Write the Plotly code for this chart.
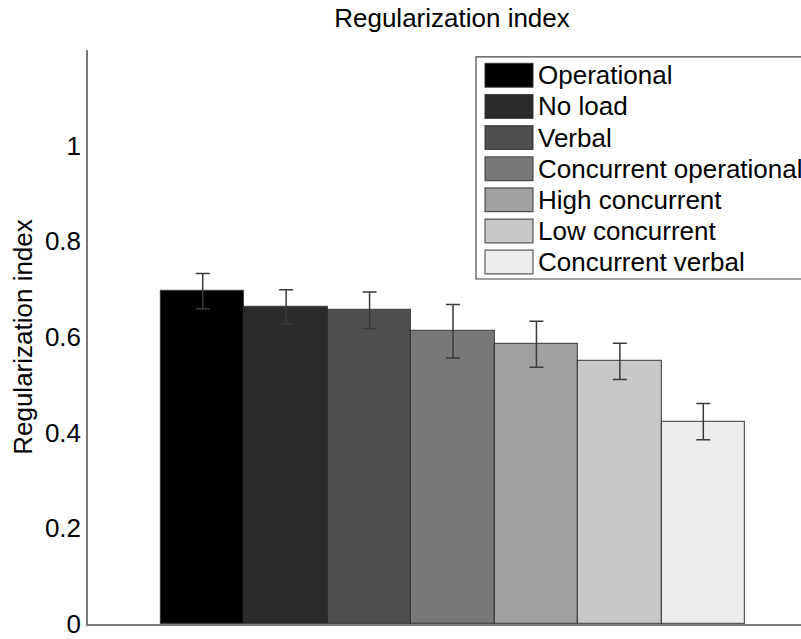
import plotly.graph_objects as go

# ---- data ----
conditions = ["Operational", "No load", "Verbal", "Concurrent operational",
              "High concurrent", "Low concurrent", "Concurrent verbal"]
values = [0.696, 0.663, 0.656, 0.612, 0.585, 0.549, 0.423]
errors = [0.037, 0.036, 0.038, 0.056, 0.048, 0.038, 0.038]
colors = ["#000000", "#2b2b2b", "#4f4f4f", "#787878", "#a0a0a0", "#c8c8c8", "#ececec"]
ytick_vals = [0, 0.2, 0.4, 0.6, 0.8, 1]
ytick_text = ["0", "0.2", "0.4", "0.6", "0.8", "1"]

W, H = 801, 639
ML, MR, MT, MB = 88, 0, 50, 10
FONT = "Liberation Sans, Arial, Helvetica, sans-serif"
FS = 26

fig = go.Figure()
fig.add_trace(go.Bar(
    x=conditions, y=values,
    marker=dict(color=colors, line=dict(color="rgba(40,40,40,0.75)", width=1.2)),
    error_y=dict(type="data", array=errors, visible=True,
                 color="#3a3a3a", thickness=1.5, width=7),
    width=1.0, showlegend=False,
))

# pixel helpers for layout (legend box placement)
pw = W - ML - MR
ph = H - MT - MB
def px_x(p):
    return (p - ML) / pw
def px_y(p):
    return (H - MB - p) / ph

shapes = []
annotations = []
# legend box (extends beyond the right edge, as in the reference)
shapes.append(dict(type="rect", xref="paper", yref="paper",
                   x0=px_x(476), x1=px_x(860), y0=px_y(281), y1=px_y(57),
                   line=dict(color="#444", width=1.2), fillcolor="white", layer="above"))
row0, step = 75.5, 31.4
for i, (name, c) in enumerate(zip(conditions, colors)):
    cy = row0 + i * step
    shapes.append(dict(type="rect", xref="paper", yref="paper",
                       x0=px_x(485), x1=px_x(533), y0=px_y(cy + 12), y1=px_y(cy - 12),
                       line=dict(color="rgba(40,40,40,0.75)", width=1.2),
                       fillcolor=c, layer="above"))
    annotations.append(dict(xref="paper", yref="paper", x=px_x(536), y=px_y(cy),
                            xanchor="left", yanchor="middle", text=name, showarrow=False,
                            font=dict(family=FONT, size=FS, color="black")))

fig.update_layout(
    width=W, height=H,
    margin=dict(l=ML, r=MR, t=MT, b=MB),
    paper_bgcolor="white", plot_bgcolor="white",
    bargap=0,
    font=dict(family=FONT, size=FS, color="black"),
    title=dict(text="Regularization index", x=452 / W,
               xref="container", xanchor="center", y=1 - 18 / H, yanchor="middle",
               font=dict(family=FONT, size=FS, color="black")),
    xaxis=dict(range=[-1.375, 7.171], showticklabels=False, ticks="",
               showgrid=False, zeroline=False, showline=True,
               linecolor="#7a7a7a", linewidth=1.5, fixedrange=True),
    yaxis=dict(range=[0, 1.2], tickvals=ytick_vals, ticktext=ytick_text, ticks="",
               showgrid=False, zeroline=False, showline=True,
               linecolor="#7a7a7a", linewidth=1.5, ticklabeloverflow="allow",
               ticklabelstandoff=0,
               title=dict(text="Regularization index", standoff=5,
                          font=dict(family=FONT, size=FS)),
               tickfont=dict(family=FONT, size=FS)),
    shapes=shapes, annotations=annotations,
)

fig.write_html("out.html")
